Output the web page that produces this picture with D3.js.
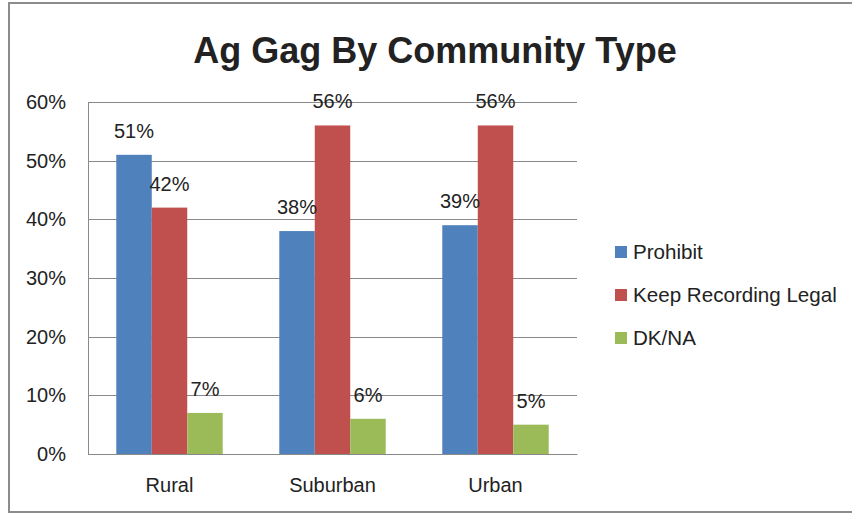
<!DOCTYPE html>
<html>
<head>
<meta charset="utf-8">
<script src="https://cdn.jsdelivr.net/npm/d3@7"></script>
<style>
  html, body { margin: 0; padding: 0; background: #fff; overflow: hidden; }
  svg { display: block; }
  text { font-family: "Liberation Sans", Arial, sans-serif; fill: #222; }
</style>
</head>
<body>
<svg id="chart" width="852" height="514"></svg>
<script>
const categories = ["Rural", "Suburban", "Urban"];
const seriesNames = ["Prohibit", "Keep Recording Legal", "DK/NA"];
const prohibit = [51, 38, 39];
const keepRecordingLegal = [42, 56, 56];
const dkna = [7, 6, 5];
const yTicks = [0, 10, 20, 30, 40, 50, 60];
const colors = ["#4F81BD", "#C0504D", "#9BBB59"];

const seriesValues = [prohibit, keepRecordingLegal, dkna];

const svg = d3.select("#chart");
const W = 852, H = 514;
const plot = { left: 88, right: 577, top: 102, bottom: 454 };

// outer frame (top, left, bottom edges; right edge lies outside the picture)
const frame = svg.append("g")
  .attr("stroke", "#8c8c8c")
  .attr("stroke-width", 2)
  .attr("fill", "none");
frame.append("path")
  .attr("d", `M${W + 5},3 H9 V512 H${W + 5}`);

const x = d3.scaleBand()
  .domain(categories)
  .range([plot.left, plot.right])
  .paddingInner(0.347)
  .paddingOuter(0.1735);

const xs = d3.scaleBand()
  .domain(seriesNames)
  .range([0, x.bandwidth()])
  .padding(0);

const y = d3.scaleLinear()
  .domain([0, 60])
  .range([plot.bottom, plot.top]);

// gridlines
svg.append("g")
  .selectAll("line")
  .data(yTicks)
  .join("line")
  .attr("x1", plot.left).attr("x2", plot.right)
  .attr("y1", d => Math.round(y(d)) + 0.5)
  .attr("y2", d => Math.round(y(d)) + 0.5)
  .attr("stroke", "#8a8a8a")
  .attr("stroke-width", 1);

// y axis
const yAxis = d3.axisLeft(y)
  .tickValues(yTicks)
  .tickSize(0)
  .tickPadding(22)
  .tickFormat(d => d + "%");
const gy = svg.append("g")
  .attr("transform", `translate(${plot.left},0)`)
  .call(yAxis);
gy.select(".domain").attr("stroke", "#8a8a8a");
gy.selectAll("text")
  .attr("font-size", 20)
  .attr("font-family", "Liberation Sans, Arial, sans-serif")
  .attr("fill", "#222");

// x axis
const xAxis = d3.axisBottom(x).tickSize(0).tickPadding(24);
const gx = svg.append("g")
  .attr("transform", `translate(0,${plot.bottom})`)
  .call(xAxis);
gx.select(".domain").attr("stroke", "#8a8a8a");
gx.selectAll("text")
  .attr("font-size", 20)
  .attr("font-family", "Liberation Sans, Arial, sans-serif")
  .attr("fill", "#222");

// bars
const rows = [];
categories.forEach((c, i) => {
  seriesNames.forEach((s, j) => {
    rows.push({ cat: c, series: s, value: seriesValues[j][i], color: colors[j] });
  });
});

svg.append("g")
  .selectAll("rect")
  .data(rows)
  .join("rect")
  .attr("x", d => x(d.cat) + xs(d.series))
  .attr("width", xs.bandwidth())
  .attr("y", d => y(d.value))
  .attr("height", d => y(0) - y(d.value))
  .attr("fill", d => d.color);

// data labels
svg.append("g")
  .selectAll("text")
  .data(rows)
  .join("text")
  .attr("x", d => x(d.cat) + xs(d.series) + xs.bandwidth() / 2)
  .attr("y", d => y(d.value) - 17)
  .attr("text-anchor", "middle")
  .attr("font-size", 20)
  .text(d => d.value + "%");

// title
svg.append("text")
  .attr("x", 435).attr("y", 63)
  .attr("text-anchor", "middle")
  .attr("font-size", 36)
  .attr("font-weight", "bold")
  .attr("fill", "#000")
  .text("Ag Gag By Community Type");

// legend
const legend = svg.append("g").attr("transform", "translate(615,252)");
const li = legend.selectAll("g")
  .data(seriesNames)
  .join("g")
  .attr("transform", (d, i) => `translate(0,${i * 43})`);
li.append("rect")
  .attr("x", 0).attr("y", -6)
  .attr("width", 12).attr("height", 12)
  .attr("fill", (d, i) => colors[i]);
li.append("text")
  .attr("x", 18).attr("y", 7)
  .attr("font-size", 20.6)
  .text(d => d);
</script>
</body>
</html>
